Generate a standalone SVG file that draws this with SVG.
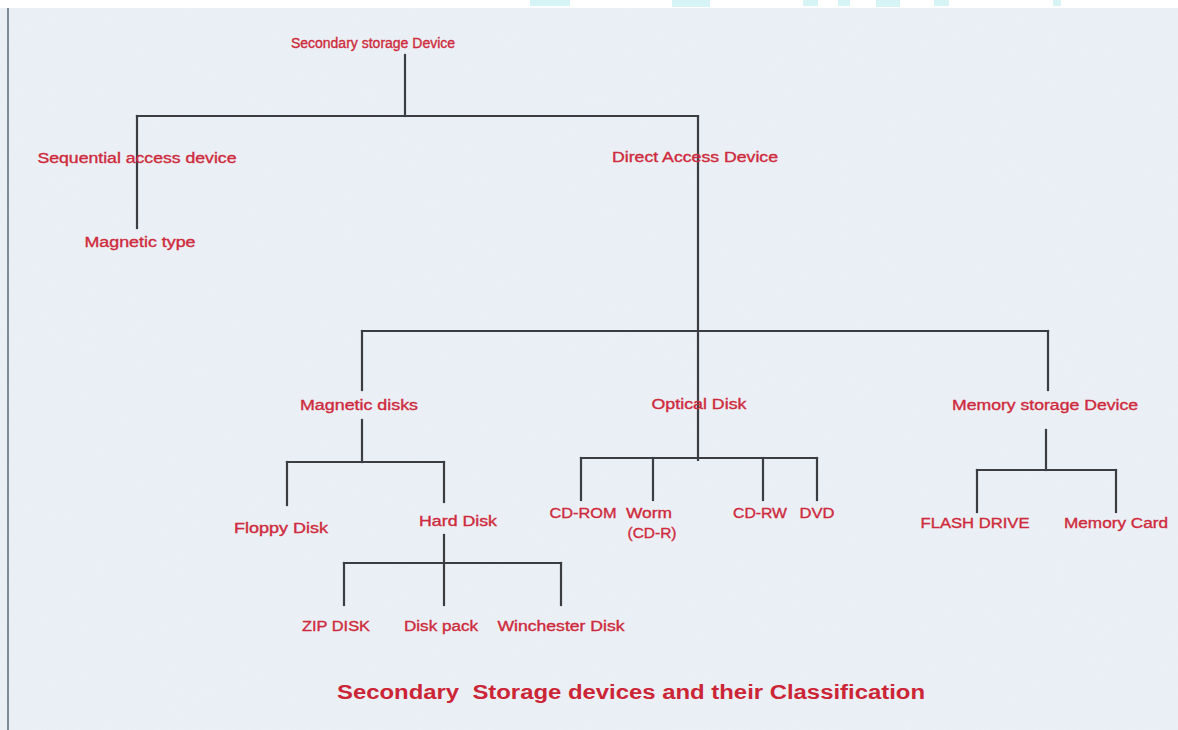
<svg xmlns="http://www.w3.org/2000/svg" width="1178" height="730" viewBox="0 0 1178 730">
<style>
.t{font-family:"Liberation Sans",Arial,sans-serif;font-size:14px;fill:#cf2a3c;text-anchor:middle;stroke:#cf2a3c;stroke-width:0.35}
.title{font-family:"Liberation Sans",Arial,sans-serif;font-size:20px;font-weight:bold;fill:#cc2535;text-anchor:middle}
.c line{stroke:#3b3d40;stroke-width:2.2;stroke-linecap:square}
</style>
<defs>
<filter id="tex" x="0" y="0" width="100%" height="100%">
<feTurbulence type="fractalNoise" baseFrequency="0.9" numOctaves="1" seed="3" result="n"/>
<feColorMatrix in="n" type="matrix" values="0 0 0 0 0.85  0 0 0 0 0.89  0 0 0 0 0.94  0 0 0 0.5 0"/>
</filter>
</defs>
<rect x="0" y="0" width="1178" height="730" fill="#eaeff5"/>
<rect x="0" y="0" width="1178" height="730" filter="url(#tex)" opacity="0.6"/>
<rect x="0" y="0" width="1178" height="8" fill="#ffffff"/>
<g fill="#d6f3f5">
<rect x="530" y="0" width="40" height="6"/>
<rect x="672" y="0" width="38" height="7"/>
<rect x="803" y="0" width="15" height="6"/>
<rect x="838" y="0" width="12" height="6"/>
<rect x="876" y="0" width="24" height="7"/>
<rect x="934" y="0" width="15" height="6"/>
<rect x="1053" y="0" width="8" height="6"/>
</g>
<line x1="8" y1="8" x2="8" y2="730" stroke="#7d8a99" stroke-width="2"/>
<g class="c" id="connectors">
<line x1="405" y1="55" x2="405" y2="116"/>
<line x1="137" y1="116" x2="698" y2="116"/>
<line x1="137" y1="116" x2="137" y2="228"/>
<line x1="698" y1="116" x2="698" y2="460"/>
<line x1="362" y1="331" x2="1048" y2="331"/>
<line x1="362" y1="331" x2="362" y2="390"/>
<line x1="1048" y1="331" x2="1048" y2="390"/>
<line x1="362" y1="420" x2="362" y2="462"/>
<line x1="287" y1="462" x2="444" y2="462"/>
<line x1="287" y1="462" x2="287" y2="505"/>
<line x1="444" y1="462" x2="444" y2="502"/>
<line x1="444" y1="535" x2="444" y2="605"/>
<line x1="344" y1="563" x2="561" y2="563"/>
<line x1="344" y1="563" x2="344" y2="605"/>
<line x1="561" y1="563" x2="561" y2="605"/>
<line x1="581" y1="458" x2="817" y2="458"/>
<line x1="581" y1="458" x2="581" y2="500"/>
<line x1="653" y1="458" x2="653" y2="500"/>
<line x1="763" y1="458" x2="763" y2="500"/>
<line x1="817" y1="458" x2="817" y2="500"/>
<line x1="1046" y1="430" x2="1046" y2="470"/>
<line x1="977" y1="470" x2="1116" y2="470"/>
<line x1="977" y1="470" x2="977" y2="512"/>
<line x1="1116" y1="470" x2="1116" y2="512"/>
</g>
<g id="n-root"><text class="t" x="373" y="48">Secondary storage Device</text></g>
<g id="n-seq"><text class="t" x="137" y="163" textLength="199" lengthAdjust="spacingAndGlyphs">Sequential access device</text></g>
<g id="n-magtype"><text class="t" x="140" y="247" textLength="111" lengthAdjust="spacingAndGlyphs">Magnetic type</text></g>
<g id="n-direct"><text class="t" x="695" y="162" textLength="166" lengthAdjust="spacingAndGlyphs">Direct Access Device</text></g>
<g id="n-magdisks"><text class="t" x="359" y="410" textLength="118" lengthAdjust="spacingAndGlyphs">Magnetic disks</text></g>
<g id="n-optical"><text class="t" x="699" y="409" textLength="95" lengthAdjust="spacingAndGlyphs">Optical Disk</text></g>
<g id="n-memory"><text class="t" x="1045" y="410" textLength="186" lengthAdjust="spacingAndGlyphs">Memory storage Device</text></g>
<g id="n-floppy"><text class="t" x="281" y="533" textLength="94" lengthAdjust="spacingAndGlyphs">Floppy Disk</text></g>
<g id="n-hard"><text class="t" x="458" y="526" textLength="78" lengthAdjust="spacingAndGlyphs">Hard Disk</text></g>
<g id="n-zip"><text class="t" x="336" y="631" textLength="68" lengthAdjust="spacingAndGlyphs">ZIP DISK</text></g>
<g id="n-pack"><text class="t" x="441" y="631" textLength="74" lengthAdjust="spacingAndGlyphs">Disk pack</text></g>
<g id="n-winch"><text class="t" x="561" y="631" textLength="127" lengthAdjust="spacingAndGlyphs">Winchester Disk</text></g>
<g id="n-cdrom"><text class="t" x="583" y="518" textLength="67" lengthAdjust="spacingAndGlyphs">CD-ROM</text></g>
<g id="n-worm"><text class="t" x="649" y="518" textLength="46" lengthAdjust="spacingAndGlyphs">Worm</text><text class="t" x="652" y="538" textLength="49" lengthAdjust="spacingAndGlyphs">(CD-R)</text></g>
<g id="n-cdrw"><text class="t" x="760" y="518" textLength="54" lengthAdjust="spacingAndGlyphs">CD-RW</text></g>
<g id="n-dvd"><text class="t" x="817" y="518" textLength="35" lengthAdjust="spacingAndGlyphs">DVD</text></g>
<g id="n-flash"><text class="t" x="975" y="528" textLength="109" lengthAdjust="spacingAndGlyphs">FLASH DRIVE</text></g>
<g id="n-card"><text class="t" x="1116" y="528" textLength="104" lengthAdjust="spacingAndGlyphs">Memory Card</text></g>
<g id="title"><text class="title" x="631" y="699" textLength="588" lengthAdjust="spacingAndGlyphs" xml:space="preserve">Secondary  Storage devices and their Classification</text></g>
</svg>
